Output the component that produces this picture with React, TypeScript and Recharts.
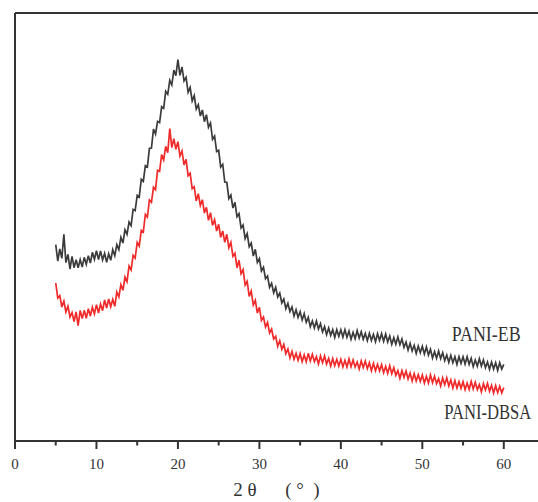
import React from 'react';
import { LineChart, Line, XAxis, YAxis, ReferenceLine, ReferenceDot } from 'recharts';

// 2θ sampling grid (degrees), 5° to 60° in 0.25° steps
const angles: number[] = Array.from({ length: 221 }, (_, i) => 5 + i * 0.25);

// Intensity (a.u.), noise included
const panIEB: number[] = [
  589, 540, 576, 548, 620, 535, 560, 516, 554, 520,
  544, 520, 544, 522, 551, 530, 556, 534, 566, 545,
  571, 544, 570, 543, 563, 536, 562, 542, 574, 556,
  589, 574, 611, 594, 634, 620, 657, 646, 695, 691,
  737, 732, 785, 779, 826, 822, 878, 879, 936, 921,
  959, 955, 1003, 998, 1049, 1040, 1082, 1068, 1113, 1096,
  1144, 1097, 1122, 1080, 1091, 1046, 1061, 1020, 1036, 996,
  1009, 975, 993, 958, 979, 941, 954, 905, 915, 868,
  872, 822, 830, 777, 776, 727, 738, 699, 716, 673,
  682, 639, 648, 607, 622, 583, 594, 555, 575, 536,
  547, 510, 521, 487, 495, 461, 473, 445, 461, 432,
  444, 414, 426, 397, 413, 388, 402, 375, 394, 371,
  388, 363, 382, 356, 371, 343, 360, 339, 360, 336,
  352, 327, 343, 319, 339, 317, 334, 311, 334, 314,
  334, 312, 334, 311, 330, 305, 326, 307, 331, 309,
  328, 305, 323, 301, 323, 302, 320, 298, 322, 302,
  322, 299, 321, 297, 315, 290, 310, 290, 312, 289,
  306, 281, 297, 273, 293, 270, 287, 263, 285, 265,
  284, 261, 282, 258, 275, 249, 268, 248, 270, 247,
  265, 241, 258, 236, 257, 235, 253, 230, 253, 233,
  253, 231, 253, 230, 248, 223, 243, 224, 247, 225,
  243, 220, 237, 215, 237, 216, 235, 212, 235, 216,
  230,
];

const panIDBSA: number[] = [
  474, 429, 436, 402, 420, 387, 404, 372, 385, 358,
  387, 346, 392, 367, 392, 368, 397, 375, 401, 381,
  409, 384, 411, 391, 423, 399, 426, 403, 425, 404,
  447, 432, 469, 452, 492, 478, 525, 513, 557, 549,
  596, 585, 632, 627, 680, 672, 723, 716, 761, 754,
  812, 809, 859, 843, 884, 865, 937, 880, 907, 875,
  898, 855, 870, 828, 845, 796, 803, 757, 763, 720,
  742, 707, 724, 684, 701, 662, 685, 647, 664, 630,
  650, 611, 630, 596, 620, 580, 596, 554, 563, 520,
  542, 502, 514, 468, 479, 434, 450, 408, 422, 384,
  401, 362, 372, 342, 356, 324, 336, 306, 314, 284,
  301, 275, 290, 262, 276, 249, 269, 245, 263, 242,
  262, 238, 258, 238, 263, 240, 260, 238, 253, 231,
  255, 235, 255, 231, 248, 225, 247, 226, 245, 225,
  245, 222, 242, 222, 246, 223, 243, 222, 237, 216,
  240, 220, 240, 217, 235, 211, 233, 211, 230, 210,
  229, 205, 224, 203, 226, 202, 220, 197, 211, 188,
  211, 191, 210, 186, 204, 180, 202, 180, 199, 179,
  198, 174, 194, 174, 198, 175, 194, 172, 187, 165,
  189, 169, 189, 165, 183, 159, 181, 159, 178, 158,
  178, 154, 174, 155, 179, 156, 176, 154, 169, 148,
  172, 153, 173, 149, 167, 144, 166, 145, 164, 144,
  160,
];

const majorTicks: number[] = [0, 10, 20, 30, 40, 50, 60];
const minorTicks: number[] = [5, 15, 25, 35, 45, 55];
const seriesNames = ['PANI-EB', 'PANI-DBSA'];
const axisTitle = '2 θ      ( °  )';

const X_MAX = 64.2;
const Y_MAX = 1284;

const data = angles.map((a, i) => ({ angle: a, eb: panIEB[i], dbsa: panIDBSA[i] }));

const AXIS_COLOR = '#333333';
const SERIF = '"Liberation Serif", "DejaVu Serif", serif';

// Axis title plus the minor tick marks, drawn in the x axis' own box
const AxisTitle = (props: any) => {
  const vb = props.viewBox || {};
  const toX = (v: number) => vb.x + (v / X_MAX) * vb.width;
  return (
    <g>
      {minorTicks.map((t) => (
        <rect key={'m' + t} x={toX(t) - 1} y={vb.y} width={2} height={4.5} fill={AXIS_COLOR} />
      ))}
      <text
        x={vb.x + vb.width / 2}
        y={vb.y + 55}
        textAnchor="middle"
        fontFamily={SERIF}
        fontSize={19}
        fill="#333"
        style={{ whiteSpace: 'pre' }}
      >
        {axisTitle}
      </text>
    </g>
  );
};

const makeSeriesLabel = (text: string, len: number) => (props: any) => {
  const vb = props.viewBox || {};
  const cx = vb.x + (vb.width || 0) / 2;
  const cy = vb.y + (vb.height || 0) / 2;
  return (
    <text
      x={cx}
      y={cy}
      fontFamily={SERIF}
      fontSize={20}
      textLength={len}
      lengthAdjust="spacingAndGlyphs"
      fill="#333"
    >
      {text}
    </text>
  );
};

export default function App() {
  return (
    <div style={{ width: 538, height: 502, overflow: 'hidden', background: '#fff' }}>
      <style>{'body{margin:0;}'}</style>
      <LineChart width={538} height={502} data={data} margin={{ top: 13, right: 0, bottom: 0, left: 15 }}>
        <XAxis
          type="number"
          dataKey="angle"
          domain={[0, X_MAX]}
          ticks={majorTicks}
          allowDataOverflow
          height={61}
          tickSize={8}
          tickMargin={9}
          tickLine={{ stroke: AXIS_COLOR, strokeWidth: 2 }}
          tick={{ fontFamily: SERIF, fontSize: 15, fill: '#333' }}
          axisLine={{ stroke: AXIS_COLOR, strokeWidth: 2 }}
          label={{ content: <AxisTitle /> }}
        />
        <YAxis type="number" domain={[0, Y_MAX]} hide allowDataOverflow />
        <ReferenceLine x={0} stroke={AXIS_COLOR} strokeWidth={2} />
        <ReferenceLine y={Y_MAX} stroke={AXIS_COLOR} strokeWidth={2} />
        <Line
          type="linear"
          dataKey="eb"
          name={seriesNames[0]}
          stroke="#3b3b3b"
          strokeWidth={1.7}
          dot={false}
          isAnimationActive={false}
        />
        <Line
          type="linear"
          dataKey="dbsa"
          name={seriesNames[1]}
          stroke="#ef2a2a"
          strokeWidth={1.7}
          dot={false}
          isAnimationActive={false}
        />
        <ReferenceDot
          x={53.6}
          y={299}
          r={1}
          fill="none"
          stroke="none"
          label={{ content: makeSeriesLabel(seriesNames[0], 69) }}
        />
        <ReferenceDot
          x={52.7}
          y={65}
          r={1}
          fill="none"
          stroke="none"
          label={{ content: makeSeriesLabel(seriesNames[1], 87) }}
        />
      </LineChart>
    </div>
  );
}
